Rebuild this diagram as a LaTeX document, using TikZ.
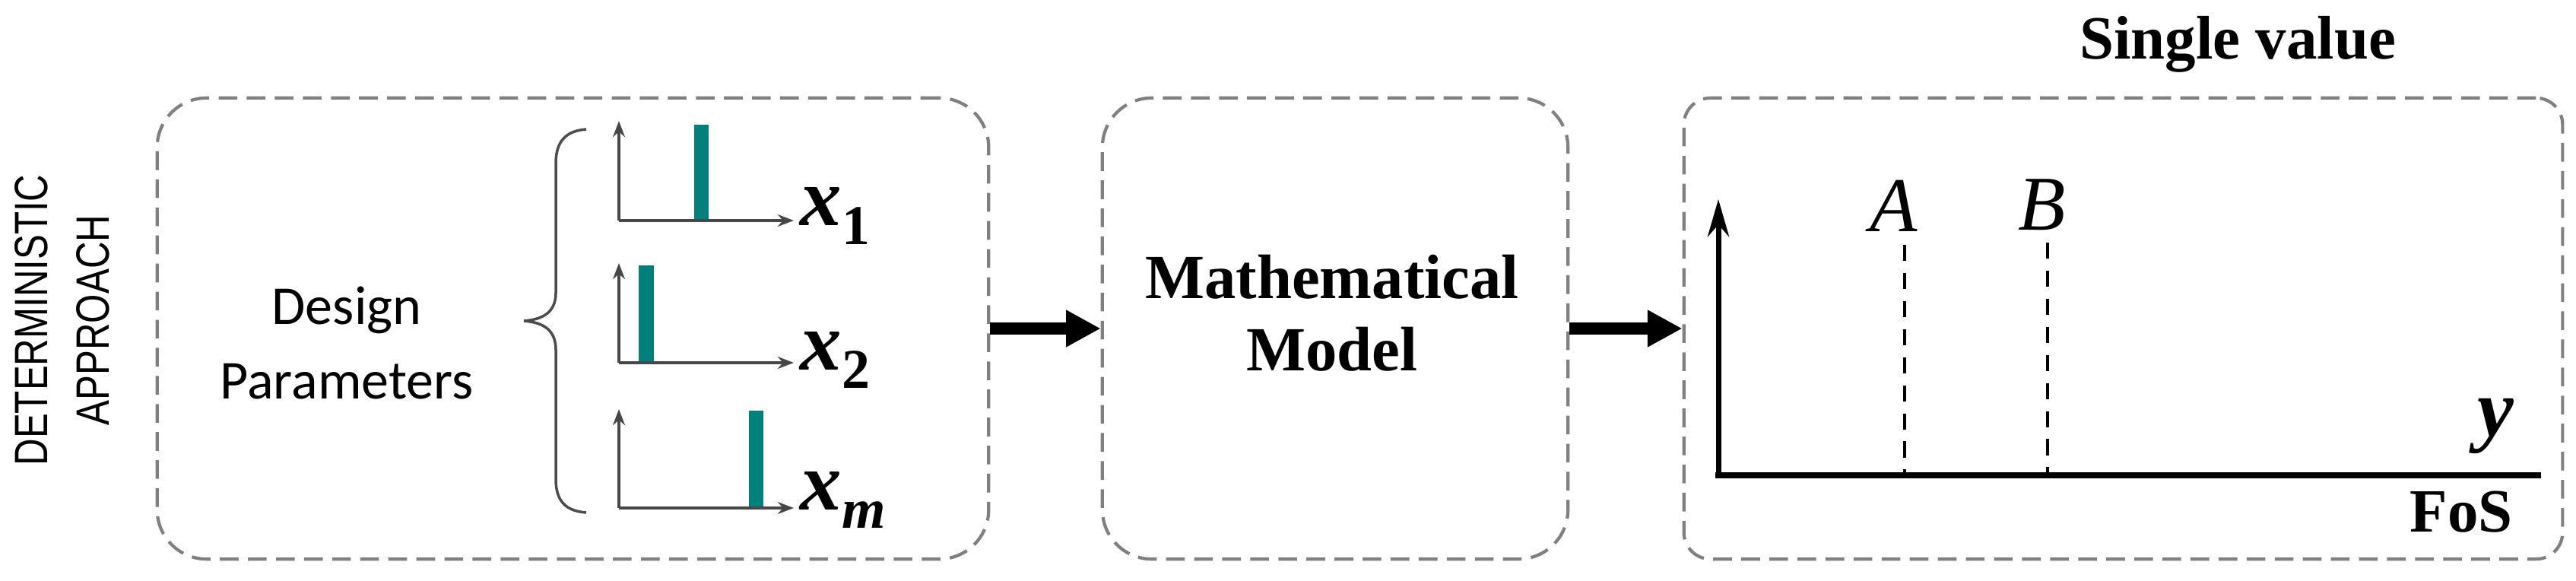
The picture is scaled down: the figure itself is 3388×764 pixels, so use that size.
\documentclass[tikz,border=0pt]{standalone}
\usepackage{graphicx}
\usepackage{fontspec}
\setmainfont{Liberation Serif}
\newfontfamily\carlito{Carlito}
\newfontfamily\arialf{Liberation Sans}
\usetikzlibrary{arrows.meta}
\definecolor{barteal}{RGB}{0,128,122}
\definecolor{boxgray}{RGB}{128,128,128}
\newcommand{\xsub}[1]{{\bfseries\itshape x}\raisebox{-7pt}{\fontsize{21}{24}\selectfont\bfseries #1}}
\tikzset{
  dbox/.style={draw=boxgray, line width=1.2pt, dash pattern=on 7pt off 3.5pt, rounded corners=0.65cm, inner sep=0pt, minimum height=6.06cm},
  bigarrow/.style={line width=4.3pt, -{Triangle[length=13pt,width=13pt]}},
  smallaxis/.style={draw=black!72, line width=1.1pt, -{Stealth[length=6pt,width=4.5pt]}},
  tbar/.style={fill=barteal, draw=none},
  xlab/.style={anchor=base west, inner sep=0pt, font=\fontsize{31}{34}\selectfont},
  serifbold/.style={font=\bfseries\fontsize{23}{27}\selectfont},
  mainaxis/.style={line width=2pt},
  refline/.style={line width=1.1pt, dash pattern=on 6pt off 4.5pt},
}
\begin{document}
\begin{tikzpicture}[x=0.01cm, y=-0.01cm]
\useasboundingbox (0,0) rectangle (3388,764);

% boxes
\node[dbox, minimum width=10.93cm] (b1) at (753.5,432) {};
\node[dbox, minimum width=6.12cm] (b2) at (1756,432) {};
\node[dbox, rounded corners=0.35cm, minimum width=11.55cm] (b3) at (2792.5,432) {};

% connectors
\draw[bigarrow] (b1.east) -- (b2.west);
\draw[bigarrow] (b2.east) -- (b3.west);

% side label
\node[font=\arialf\fontsize{17.5}{23}\selectfont, rotate=90, align=center, inner sep=0pt] (appr) at (82,421)
  {\scalebox{0.8}[1]{DETERMINISTIC}\\\scalebox{0.8}[1]{APPROACH}};

% design parameters
\node[font=\carlito\fontsize{20.5}{28}\selectfont, align=center, inner sep=0pt] (dp) at (456,451) {Design\\Parameters};

% brace
\draw[black!70, line width=1pt] (771,170) .. controls (745,172) and (731,185) .. (731,215) -- (731,385)
  .. controls (731,410) and (715,420) .. (689,422)
  .. controls (715,424) and (731,434) .. (731,460) -- (731,630)
  .. controls (731,660) and (745,672) .. (771,674);

% plot 1
\coordinate (o1) at (814,290); \coordinate (t1) at (814,159); \coordinate (e1) at (1044,290);
\fill[tbar] (913,164) rectangle (932,290);
\draw[smallaxis] (o1) -- (t1);
\draw[smallaxis] (o1) -- (e1);
\node[xlab] (x1) at (1052,297) {\xsub{1}};

% plot 2
\coordinate (o2) at (814,477); \coordinate (t2) at (814,346); \coordinate (e2) at (1044,477);
\fill[tbar] (840,349) rectangle (860,477);
\draw[smallaxis] (o2) -- (t2);
\draw[smallaxis] (o2) -- (e2);
\node[xlab] (x2) at (1052,486) {\xsub{2}};

% plot 3
\coordinate (o3) at (814,668); \coordinate (t3) at (814,538); \coordinate (e3) at (1044,668);
\fill[tbar] (985,540) rectangle (1004,668);
\draw[smallaxis] (o3) -- (t3);
\draw[smallaxis] (o3) -- (e3);
\node[xlab] (xm) at (1052,670) {\xsub{\itshape m}};

% mathematical model
\node[font=\bfseries\fontsize{23.5}{27}\selectfont, align=center, inner sep=0pt] (mm) at (1752,412) {Mathematical\\Model};

% output plot
\node[serifbold, anchor=base, inner sep=0pt] (sv) at (2943,78) {Single value};
\coordinate (O) at (2260,625); \coordinate (Ytop) at (2260,262);
\coordinate (Xs) at (2256,625); \coordinate (Xend) at (3342,625);
\draw[mainaxis, -{Stealth[length=14pt,width=8pt]}] (O) -- (Ytop);
\draw[line width=2.4pt] (Xs) -- (Xend);
\node[anchor=base, inner sep=0pt, font=\itshape\fontsize{29}{32}\selectfont] (A) at (2491,305) {A};
\node[anchor=base, inner sep=0pt, font=\itshape\fontsize{29}{32}\selectfont] (B) at (2686,303) {B};
\coordinate (At) at (2505,322); \coordinate (Ab) at (2505,621);
\coordinate (Bt) at (2693,319); \coordinate (Bb) at (2693,621);
\draw[refline] (At) -- (Ab);
\draw[refline] (Bt) -- (Bb);
\node[anchor=base, inner sep=0pt, font=\bfseries\itshape\fontsize{30.5}{34}\selectfont] (yl) at (3282,573) {y};
\node[serifbold, anchor=base, inner sep=0pt] (fos) at (3237,699) {FoS};
\end{tikzpicture}
\end{document}
